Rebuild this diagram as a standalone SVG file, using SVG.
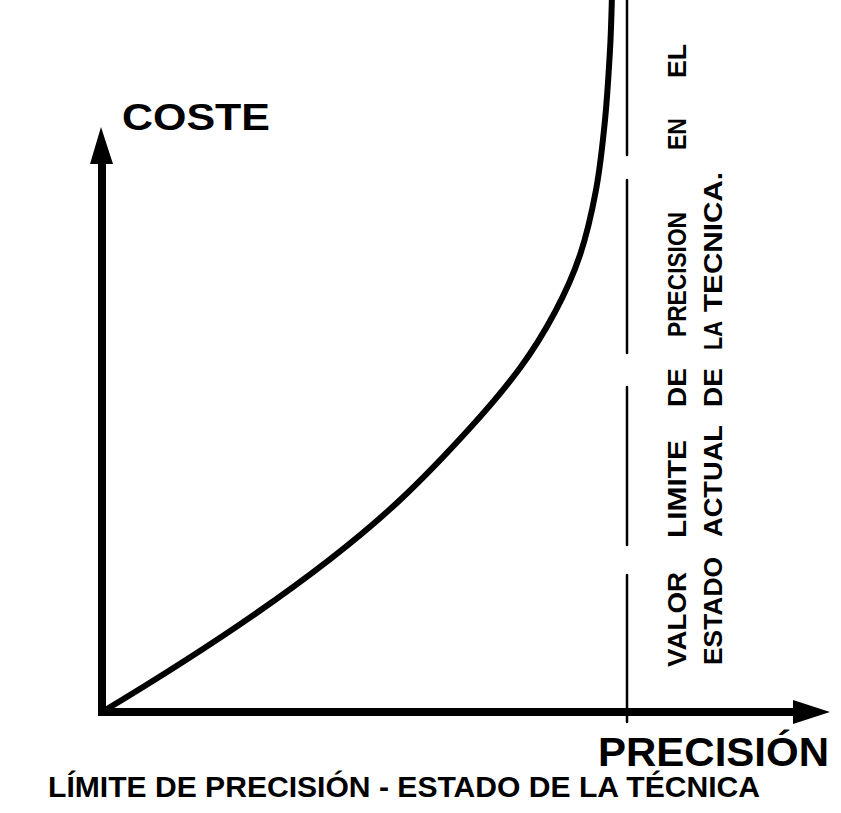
<svg xmlns="http://www.w3.org/2000/svg" width="841" height="813" viewBox="0 0 841 813">
<style>
.lbl{font-family:"Liberation Sans",Arial,sans-serif;font-weight:bold;fill:#000}
.vt{font-family:"Liberation Sans",Arial,sans-serif;font-weight:bold;fill:#000;font-size:26px}
.title{font-family:"Liberation Sans Narrow","Liberation Sans",Arial,sans-serif;font-weight:bold;fill:#000;font-size:29px}
.axis{stroke:#000;stroke-width:8;fill:none}
.dash{stroke:#000;stroke-width:2.5;fill:none;stroke-linecap:round}
.curve{stroke:#000;stroke-width:6;fill:none}
</style>
<rect width="841" height="813" fill="#fff"/>
<g id="connectors">
  <g id="y-axis">
    <line class="axis" x1="102" y1="716" x2="102" y2="160"/>
    <polygon points="101,127 113,164 90,164" fill="#000"/>
  </g>
  <g id="x-axis">
    <line class="axis" x1="98" y1="712" x2="796" y2="712"/>
    <polygon points="830,712 793,700 793,724" fill="#000"/>
  </g>
  <g id="limit-line">
    <line class="dash" x1="627" y1="-2" x2="627" y2="155"/>
    <line class="dash" x1="627" y1="180" x2="627" y2="353"/>
    <line class="dash" x1="627" y1="387" x2="627" y2="545"/>
    <line class="dash" x1="627" y1="575" x2="627" y2="722"/>
  </g>
  <g id="cost-curve">
    <path class="curve" d="M102,712 C202,652 320,575 400,500 C428.3,473.5 450,450 470,428 C490,406 505.8,387.3 520,368 C534.2,348.7 545,330.8 555,312 C565,293.2 573.2,275.3 580,255 C586.8,234.7 591.8,212.5 596,190 C600.2,167.5 602.7,143.3 605,120 C607.3,96.7 608.8,70.8 610,50 C611.2,29.2 611.7,4.2 612,-5"/>
  </g>
</g>
<g id="label-coste">
  <text class="lbl" x="122" y="130" font-size="37" textLength="148" lengthAdjust="spacingAndGlyphs">COSTE</text>
</g>
<g id="label-precision">
  <text class="lbl" x="598" y="766" font-size="40" textLength="231" lengthAdjust="spacingAndGlyphs">PRECISIÓN</text>
</g>
<g id="limit-note">
  <g transform="translate(686,0)">
    <text class="vt" transform="translate(0,667) rotate(-90)" textLength="95" lengthAdjust="spacingAndGlyphs">VALOR</text>
    <text class="vt" transform="translate(0,538) rotate(-90)" textLength="98" lengthAdjust="spacingAndGlyphs">LIMITE</text>
    <text class="vt" transform="translate(0,407) rotate(-90)" textLength="39" lengthAdjust="spacingAndGlyphs">DE</text>
    <text class="vt" transform="translate(0,337) rotate(-90)" textLength="125" lengthAdjust="spacingAndGlyphs">PRECISION</text>
    <text class="vt" transform="translate(0,150) rotate(-90)" textLength="32" lengthAdjust="spacingAndGlyphs">EN</text>
    <text class="vt" transform="translate(0,78) rotate(-90)" textLength="34" lengthAdjust="spacingAndGlyphs">EL</text>
  </g>
  <g transform="translate(722,0)">
    <text class="vt" transform="translate(0,665) rotate(-90)" textLength="108" lengthAdjust="spacingAndGlyphs">ESTADO</text>
    <text class="vt" transform="translate(0,537) rotate(-90)" textLength="112" lengthAdjust="spacingAndGlyphs">ACTUAL</text>
    <text class="vt" transform="translate(0,407) rotate(-90)" textLength="39" lengthAdjust="spacingAndGlyphs">DE</text>
    <text class="vt" transform="translate(0,350) rotate(-90)" textLength="29" lengthAdjust="spacingAndGlyphs">LA</text>
    <text class="vt" transform="translate(0,312) rotate(-90)" textLength="140" lengthAdjust="spacingAndGlyphs">TECNICA.</text>
  </g>
</g>
<g id="title">
  <text class="title" x="48" y="797" textLength="712" lengthAdjust="spacingAndGlyphs">LÍMITE DE PRECISIÓN - ESTADO DE LA TÉCNICA</text>
</g>
</svg>
